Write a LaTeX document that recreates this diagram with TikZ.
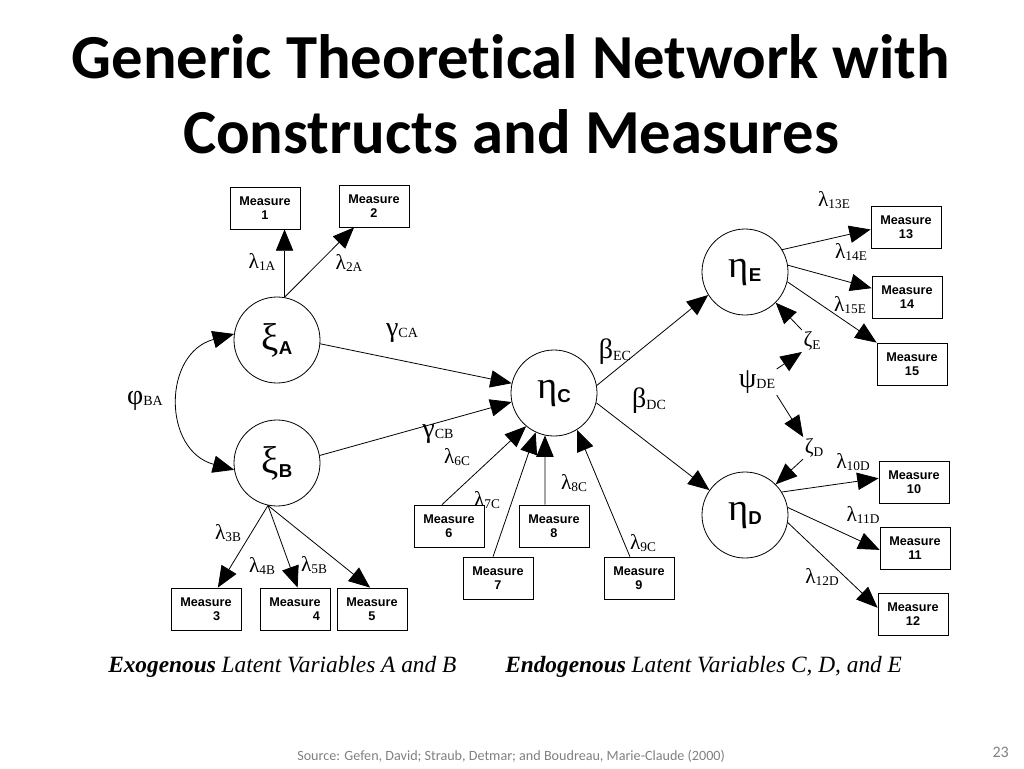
\documentclass[tikz,border=0pt]{standalone}
\usepackage{fontspec}
\usepackage{tikz}
\usetikzlibrary{arrows.meta}
\setmainfont{Liberation Serif}
\newfontfamily\titlefont[Ligatures=NoCommon]{Carlito}
\newfontfamily\boxfont{Liberation Sans}
\definecolor{srcgray}{RGB}{128,128,128}
\tikzstyle{latent}=[
        draw,
        line width = 0.6pt,
        circle,
        minimum size = 64.5pt,
        inner sep = 0pt
    ]
\tikzstyle{measure}=[
    draw,
    line width = 0.6pt,
    rectangle,
    minimum width = 52.5pt,
    minimum height = 31.5pt,
    inner sep = 0pt,
    align = center,
    font = \boxfont\bfseries\fontsize{9.5}{10.5}\selectfont
]
\tikzstyle{lab}=[inner sep = 1pt]
\tikzstyle{caption}=[anchor = base west, inner sep = 0pt]
\tikzstyle{title}=[anchor = base, font = \titlefont\bfseries\fontsize{47}{47}\selectfont]
\newcommand{\latvar}[2]{{\fontsize{29}{29}\selectfont #1}\raisebox{-3pt}{\boxfont\bfseries\fontsize{14}{14}\selectfont #2}}
\newcommand{\loadlab}[1]{{\fontsize{16}{16}\selectfont λ}\raisebox{-2pt}{\fontsize{10}{10}\selectfont #1}}
\newcommand{\coeflab}[2]{{\fontsize{21}{21}\selectfont #1}\raisebox{-1pt}{\fontsize{10.5}{10.5}\selectfont #2}}
\newcommand{\zetalab}[1]{{\fontsize{16}{16}\selectfont ζ}\raisebox{-2pt}{\fontsize{10}{10}\selectfont #1}}

\begin{document}
\begin{tikzpicture}[x = 0.75pt, y = -0.75pt,
        arr/.style = {-{Triangle[length=16pt,width=13pt]}, line width = 0.6pt},
        both/.style = {{Triangle[length=16pt,width=13pt]}-{Triangle[length=16pt,width=13pt]}, line width = 0.6pt}]
        \useasboundingbox[fill = white] (0,0) rectangle (1024,768);

        \node[title] (t1) at (511,78) {Generic Theoretical Network with};
        \node[title] (t2) at (511,153) {Constructs and Measures};

        \node[latent] (xiA) at (277,340) {\latvar{ξ}{A}};
        \node[latent] (xiB) at (277,463) {\latvar{ξ}{B}};
        \node[latent] (etaC) at (554,393) {\latvar{η}{C}};
        \node[latent] (etaE) at (745,272) {\latvar{η}{E}};
        \node[latent] (etaD) at (745,515) {\latvar{η}{D}};

        \node[measure] (m1) at (265,208) {Measure\\1};
        \node[measure] (m2) at (374,206) {Measure\\2};
        \node[measure] (m3) at (206,609) {Measure\\\hspace{16pt}3};
        \node[measure] (m4) at (295,609) {Measure\\\hspace{32pt}4};
        \node[measure] (m5) at (372,609) {Measure\\5};
        \node[measure] (m6) at (449,526) {Measure\\6};
        \node[measure] (m7) at (498,578) {Measure\\7};
        \node[measure] (m8) at (554,526) {Measure\\8};
        \node[measure] (m9) at (639,578) {Measure\\9};
        \node[measure] (m10) at (914,482) {Measure\\10};
        \node[measure] (m11) at (915,548) {Measure\\11};
        \node[measure] (m12) at (913,614) {Measure\\12};
        \node[measure] (m13) at (906,227) {Measure\\13};
        \node[measure] (m14) at (907,297) {Measure\\14};
        \node[measure] (m15) at (912,364) {Measure\\15};

        \node[lab] (l1A) at (262,262) {\loadlab{1A}};
        \node[lab] (l2A) at (349,263) {\loadlab{2A}};
        \node[lab] (l3B) at (228,533) {\loadlab{3B}};
        \node[lab] (l4B) at (262,566) {\loadlab{4B}};
        \node[lab] (l5B) at (314,565) {\loadlab{5B}};
        \node[lab] (l6C) at (457,457) {\loadlab{6C}};
        \node[lab] (l7C) at (487,500) {\loadlab{7C}};
        \node[lab] (l8C) at (574,483) {\loadlab{8C}};
        \node[lab] (l9C) at (643,543) {\loadlab{9C}};
        \node[lab] (l10D) at (853,462) {\loadlab{10D}};
        \node[lab] (l11D) at (863,515) {\loadlab{11D}};
        \node[lab] (l12D) at (822,577) {\loadlab{12D}};
        \node[lab] (l13E) at (834,200) {\loadlab{13E}};
        \node[lab] (l14E) at (851,252) {\loadlab{14E}};
        \node[lab] (l15E) at (850,305) {\loadlab{15E}};
        \node[lab] (gCA) at (402,333) {\coeflab{γ}{CA}};
        \node[lab] (gCB) at (438,434) {\coeflab{γ}{CB}};
        \node[lab] (bEC) at (615,352) {\coeflab{β}{EC}};
        \node[lab] (bDC) at (649,401) {\coeflab{β}{DC}};
        \node[lab] (phi) at (145,401) {\coeflab{φ}{BA}};
        \node[lab] (psi) at (757,382) {\coeflab{ψ}{DE}};
        \node[lab] (zE) at (812,341) {\zetalab{E}};
        \node[lab] (zD) at (814,448) {\zetalab{D}};

        \draw[arr] (xiA.80) -- (xiA.80 |- m1.south);
        \draw[arr] (xiA.80) -- (m2.227);
        \draw[arr] (xiB.258) -- (m3.61);
        \draw[arr] (xiB.258) -- (m4.83);
        \draw[arr] (xiB.258) -- (m5.95);
        \draw[both] (xiA.172) to[out=195, in=165, looseness=1.4] (xiB.189);

        \draw[arr] (xiA.-5) -- (etaC.167);
        \draw[arr] (xiB.10) -- (etaC.192);
        \draw[arr] (m6.108) -- (etaC.230);
        \draw[arr] (m7.103) -- (etaC.245);
        \draw[arr] (m8.113) -- (etaC.258);
        \draw[arr] (m9.113) -- (etaC.302);

        \draw[arr] (etaC.10) -- (etaE.212);
        \draw[arr] (etaC.347) -- (etaD.145);

        \draw[arr] (psi.north east) -- (zE.south west);
        \draw[arr] (psi.south east) -- (zD.north west);
        \draw[arr] (zE.north west) -- (etaE.-45);
        \draw[arr] (zD.south west) -- (etaD.45);

        \draw[arr] (etaE.31) -- (m13.184);
        \draw[arr] (etaE.9) -- (m14.166);
        \draw[arr] (etaE.347) -- (m15.north west);
        \draw[arr] (etaD.32) -- (m10.174);
        \draw[arr] (etaD.10) -- (m11.183);
        \draw[arr] (etaD.350) -- (m12.170);

        \node[caption] (capA) at (108,672) {\fontsize{17.5}{17.5}\selectfont\itshape\textbf{Exogenous} Latent Variables A and B};
        \node[caption] (capB) at (505,672) {\fontsize{17.5}{17.5}\selectfont\itshape\textbf{Endogenous} Latent Variables C, D, and E};
        \node[caption, text = srcgray] (src) at (297,760) {\titlefont\fontsize{10.6}{10.6}\selectfont Source: Gefen, David; Straub, Detmar; and Boudreau, Marie-Claude (2000)};
        \node[anchor = base east, inner sep = 0pt, text = srcgray] (pg) at (1009,757) {\titlefont\fontsize{12}{12}\selectfont 23};

    \end{tikzpicture}
\end{document}
